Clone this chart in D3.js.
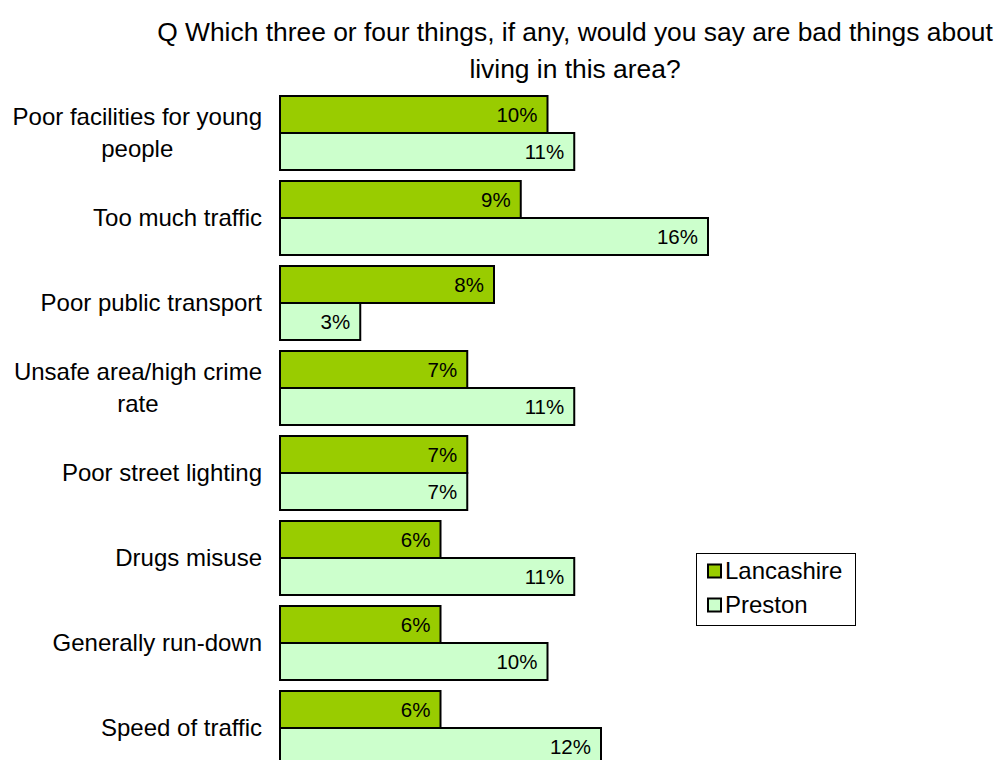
<!DOCTYPE html>
<html>
<head>
<meta charset="utf-8">
<script src="https://cdn.jsdelivr.net/npm/d3@7/dist/d3.min.js"></script>
<style>
  html, body { margin: 0; padding: 0; background: #fff; }
  svg { display: block; font-family: Arial, "Liberation Sans", sans-serif; }
</style>
</head>
<body>
<svg id="chart" width="1003" height="760"></svg>
<script>
const categories = [
  "Poor facilities for young people",
  "Too much traffic",
  "Poor public transport",
  "Unsafe area/high crime rate",
  "Poor street lighting",
  "Drugs misuse",
  "Generally run-down",
  "Speed of traffic"
];
const seriesNames = ["Lancashire", "Preston"];
const lancashire = [10, 9, 8, 7, 7, 6, 6, 6];
const preston = [11, 16, 3, 11, 7, 11, 10, 12];
const colors = ["#99CC00", "#CCFFCC"];
const titleLines = [
  "Q Which three or four things, if any, would you say are bad things about",
  "living in this area?"
];

const svg = d3.select("#chart");
const values = [lancashire, preston];

const x = d3.scaleLinear().domain([0, 1]).range([280, 280 + 26.75]);
const y = d3.scaleBand().domain(categories).range([90.5, 770.5])
  .paddingInner(11 / 85).paddingOuter(5.5 / 85);
const ySub = d3.scaleBand().domain(seriesNames).range([0, y.bandwidth()]);

// Title
svg.append("g").selectAll("text").data(titleLines).join("text")
  .attr("x", 575)
  .attr("y", (d, i) => 41 + i * 37)
  .attr("text-anchor", "middle")
  .attr("font-size", 26.4)
  .attr("fill", "#000")
  .text(d => d);

// Bars
const groups = svg.append("g").selectAll("g").data(categories).join("g")
  .attr("transform", d => `translate(0,${y(d)})`);

seriesNames.forEach((s, si) => {
  groups.append("rect")
    .attr("x", x(0))
    .attr("y", ySub(s))
    .attr("width", (d, i) => x(values[si][i]) - x(0))
    .attr("height", ySub.bandwidth())
    .attr("fill", colors[si])
    .attr("stroke", "#000")
    .attr("stroke-width", 2);
  groups.append("text")
    .attr("x", (d, i) => x(values[si][i]) - 10)
    .attr("y", ySub(s) + ySub.bandwidth() / 2 + 7)
    .attr("text-anchor", "end")
    .attr("font-size", 20.5)
    .attr("fill", "#000")
    .text((d, i) => values[si][i] + "%");
});

// Category labels with wrapping
const labelRight = 262;
const maxW = 262;
const labelG = svg.append("g").attr("font-size", 24).attr("fill", "#000");
categories.forEach(cat => {
  const cy = y(cat) + y.bandwidth() / 2;
  const probe = labelG.append("text").attr("visibility", "hidden");
  const words = cat.split(" ");
  const lines = [];
  let cur = "";
  words.forEach(w => {
    const t = cur ? cur + " " + w : w;
    probe.text(t);
    if (probe.node().getComputedTextLength() > maxW && cur) {
      lines.push(cur);
      cur = w;
    } else cur = t;
  });
  lines.push(cur);
  const widths = lines.map(l => { probe.text(l); return probe.node().getComputedTextLength(); });
  probe.remove();
  const bw = d3.max(widths);
  const cx = labelRight - bw / 2;
  const n = lines.length;
  lines.forEach((l, i) => {
    labelG.append("text")
      .attr("x", cx)
      .attr("y", cy + 8 + (i - (n - 1) / 2) * 32.5)
      .attr("text-anchor", "middle")
      .text(l);
  });
});

// Legend
const legend = svg.append("g");
legend.append("rect")
  .attr("x", 696.5).attr("y", 553.5).attr("width", 159).attr("height", 72)
  .attr("fill", "#fff").attr("stroke", "#000").attr("stroke-width", 1);
seriesNames.forEach((s, i) => {
  const ry = 571 + i * 34;
  legend.append("rect")
    .attr("x", 708).attr("y", ry - 6.5).attr("width", 13).attr("height", 13)
    .attr("fill", colors[i]).attr("stroke", "#000").attr("stroke-width", 2);
  legend.append("text")
    .attr("x", 725).attr("y", ry + 8)
    .attr("font-size", 24).attr("fill", "#000")
    .text(s);
});
</script>
</body>
</html>
